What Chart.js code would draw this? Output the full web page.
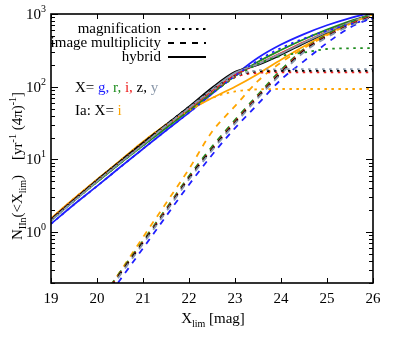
<!DOCTYPE html>
<html>
<head>
<meta charset="utf-8">
<script src="https://cdn.jsdelivr.net/npm/chart.js@4"></script>
<style>
  html, body { margin: 0; padding: 0; background: #fff; }
  #wrap { width: 399px; height: 343px; }
</style>
</head>
<body>
<div id="wrap"><canvas id="lensChart" width="399" height="343"></canvas></div>
<script>
// limiting magnitude (x axis)
const xMag = [19, 19.5, 20, 20.5, 21, 21.5, 22, 22.5, 23, 23.5, 24, 24.5, 25, 25.5, 26];
const xTicks = [19, 20, 21, 22, 23, 24, 25, 26];
const yDecades = [0, 1, 2, 3];

// hybrid (solid)
const hybG  = [1.3, 2.4, 4.3, 7.8, 14, 25, 44, 80, 145, 250, 380, 530, 700, 880, 1060];
const hybR  = [1.45, 2.7, 4.9, 8.8, 15.5, 27, 47, 82, 140, 220, 320, 450, 610, 800, 1000];
const hybI  = [1.5, 2.8, 5.1, 9.2, 16.5, 29, 50, 88, 145, 205, 290, 410, 570, 770, 1000];
const hybZ  = [1.5, 2.8, 5.2, 9.4, 17, 30, 53, 97, 160, 200, 275, 395, 560, 770, 1000];
const hybY  = [1.45, 2.7, 5.0, 9.0, 16, 29, 51, 92, 155, 205, 285, 405, 565, 770, 1000];
const hybIa = [1.55, 2.9, 5.3, 9.6, 17.5, 30, 47, 70, 100, 150, 235, 360, 530, 750, 1000];

// image multiplicity (dashed)
const mulG  = [null, null, 0.08, 0.22, 0.6, 1.65, 4.5, 11.5, 27, 58, 125, 225, 400, 650, 900];
const mulR  = [null, null, 0.1, 0.28, 0.76, 2.1, 5.9, 15, 35, 78, 170, 330, 520, 760, 1000];
const mulI  = [null, null, 0.098, 0.27, 0.73, 2.0, 5.6, 14, 33, 74, 160, 320, 500, 720, 950];
const mulZ  = [null, null, 0.096, 0.265, 0.72, 1.95, 5.5, 13.8, 32, 72, 155, 310, 490, 700, 930];
const mulY  = [null, null, 0.092, 0.255, 0.69, 1.9, 5.3, 13.3, 31, 70, 150, 300, 480, 690, 920];
const mulIa = [null, null, 0.095, 0.285, 0.85, 2.5, 7.4, 24, 54, 120, 215, 340, 510, 730, 1000];

// magnification (dotted)
const magG  = [1.3, 2.4, 4.3, 7.8, 14, 25, 44, 80, 140, 230, 340, 460, 590, 720, 870];
const magR  = [1.45, 2.7, 4.9, 8.8, 15.5, 27, 47, 82, 135, 205, 265, 295, 330, 338, 340];
const magI  = [1.5, 2.8, 5.1, 9.2, 16.5, 29, 50, 86, 135, 155, 158, 158, 158, 158, 158];
const magZ  = [1.5, 2.8, 5.2, 9.4, 17, 30, 53, 90, 140, 162, 165, 165, 165, 165, 165];
const magY  = [1.45, 2.7, 5.0, 9.0, 16, 29, 51, 88, 140, 168, 174, 175, 175, 175, 175];
const magIa = [1.55, 2.9, 5.3, 9.6, 17.5, 30, 47, 70, 86, 92, 93, 93, 93, 93, 93];

const colG = '#1f1fff', colR = '#1d8c1d', colI = '#ee1b1b', colZ = '#000000', colY = '#8a98aa', colIa = '#ffa500';

const SERIF = '"Liberation Serif", "DejaVu Serif", serif';
const DOT = [2.5, 4.5];
const DASH = [6, 6];

function pts(vals) {
  return xMag.map((x, i) => ({ x: x, y: vals[i] }));
}
function ds(vals, color, dash) {
  return {
    data: pts(vals),
    borderColor: color,
    borderWidth: 1.8,
    borderDash: dash,
    pointRadius: 0,
    fill: false,
    spanGaps: false,
    cubicInterpolationMode: 'monotone',
    clip: 0
  };
}

const datasets = [
  ds(magY, colY, DOT), ds(magZ, colZ, DOT), ds(magI, colI, DOT), ds(magR, colR, DOT), ds(magG, colG, DOT), ds(magIa, colIa, DOT),
  ds(mulY, colY, DASH), ds(mulZ, colZ, DASH), ds(mulI, colI, DASH), ds(mulR, colR, DASH), ds(mulG, colG, DASH), ds(mulIa, colIa, DASH),
  ds(hybY, colY, []), ds(hybZ, colZ, []), ds(hybI, colI, []), ds(hybR, colR, []), ds(hybIa, colIa, []), ds(hybG, colG, [])
];

// draw a run of text pieces with sub/superscripts
function rich(ctx, parts, x, y, align) {
  let total = 0;
  parts.forEach(p => { ctx.font = p.size + 'px ' + SERIF; total += ctx.measureText(p.t).width; });
  let cx = align === 'center' ? x - total / 2 : (align === 'right' ? x - total : x);
  parts.forEach(p => {
    ctx.font = p.size + 'px ' + SERIF;
    ctx.fillStyle = p.color || '#000';
    ctx.fillText(p.t, cx, y + (p.dy || 0));
    cx += ctx.measureText(p.t).width;
  });
}

const framePlugin = {
  id: 'frame',
  afterDraw(chart) {
    const ctx = chart.ctx;
    const a = chart.chartArea;
    const xs = chart.scales.x, ys = chart.scales.y;
    ctx.save();
    ctx.textBaseline = 'alphabetic';
    ctx.textAlign = 'left';
    ctx.strokeStyle = '#000';

    // ticks
    ctx.lineWidth = 1;
    ctx.beginPath();
    xTicks.forEach(v => {
      const px = Math.round(xs.getPixelForValue(v)) + 0.5;
      ctx.moveTo(px, a.bottom); ctx.lineTo(px, a.bottom - 5);
      ctx.moveTo(px, a.top); ctx.lineTo(px, a.top + 5);
    });
    for (let d = -1; d <= 3; d++) {
      for (let m = 1; m <= 9; m++) {
        const v = m * Math.pow(10, d);
        if (v < ys.min || v > ys.max) continue;
        const py = Math.round(ys.getPixelForValue(v)) + 0.5;
        const len = m === 1 ? 7 : 4;
        ctx.moveTo(a.left, py); ctx.lineTo(a.left + len, py);
        ctx.moveTo(a.right, py); ctx.lineTo(a.right - len, py);
      }
    }
    ctx.stroke();

    // frame
    ctx.lineWidth = 1.6;
    ctx.strokeRect(a.left, a.top, a.right - a.left, a.bottom - a.top);

    // x tick labels
    ctx.fillStyle = '#000';
    ctx.font = '15px ' + SERIF;
    ctx.textAlign = 'center';
    xTicks.forEach(v => {
      ctx.fillText(String(v), xs.getPixelForValue(v), a.bottom + 20);
    });
    ctx.textAlign = 'left';

    // y tick labels 10^n
    yDecades.forEach(d => {
      const py = ys.getPixelForValue(Math.pow(10, d));
      ctx.font = '10px ' + SERIF;
      const ew = ctx.measureText(String(d)).width;
      const ex = a.left - 5 - ew;
      ctx.fillText(String(d), ex, py - 2);
      ctx.font = '15px ' + SERIF;
      ctx.textAlign = 'right';
      ctx.fillText('10', ex, py + 5);
      ctx.textAlign = 'left';
    });

    // x axis title
    rich(ctx, [
      { t: 'X', size: 15 },
      { t: 'lim', size: 10, dy: 4 },
      { t: ' [mag]', size: 15 }
    ], 213, 323, 'center');

    // y axis title
    ctx.save();
    ctx.translate(22, 166);
    ctx.rotate(-Math.PI / 2);
    rich(ctx, [
      { t: 'N', size: 15 },
      { t: 'IIn', size: 10, dy: 4 },
      { t: '(<X', size: 15 },
      { t: 'lim', size: 10, dy: 4 },
      { t: ')    [yr', size: 15 },
      { t: '-1', size: 10, dy: -6 },
      { t: ' (4π)', size: 15 },
      { t: '-1', size: 10, dy: -6 },
      { t: ']', size: 15 }
    ], 0, 0, 'center');
    ctx.restore();

    // legend
    const legend = [['magnification', DOT, 29], ['image multiplicity', DASH, 43], ['hybrid', [], 57]];
    ctx.font = '15px ' + SERIF;
    ctx.textAlign = 'right';
    legend.forEach(([label, dash, ly]) => {
      ctx.fillStyle = '#000';
      ctx.fillText(label, 161, ly + 4);
      ctx.setLineDash(dash);
      ctx.lineWidth = 1.8;
      ctx.beginPath();
      ctx.moveTo(168, ly); ctx.lineTo(206, ly);
      ctx.stroke();
    });
    ctx.setLineDash([]);
    ctx.textAlign = 'left';

    // band labels
    rich(ctx, [
      { t: 'X= ', size: 15 },
      { t: 'g, ', size: 15, color: colG },
      { t: 'r, ', size: 15, color: colR },
      { t: 'i, ', size: 15, color: colI },
      { t: 'z, ', size: 15, color: colZ },
      { t: 'y', size: 15, color: colY }
    ], 75, 92, 'left');
    rich(ctx, [
      { t: 'Ia: X= ', size: 15 },
      { t: 'i', size: 15, color: colIa }
    ], 75, 115, 'left');

    ctx.restore();
  }
};

const ctx1 = document.getElementById('lensChart').getContext('2d');
const lensChart = new Chart(ctx1, {
  type: 'line',
  data: { datasets: datasets },
  options: {
    responsive: false,
    animation: false,
    layout: { padding: { left: 51, right: 26, top: 14, bottom: 60 } },
    plugins: { legend: { display: false }, tooltip: { enabled: false } },
    scales: {
      x: { type: 'linear', min: 19, max: 26, display: false },
      y: { type: 'logarithmic', min: 0.2, max: 1000, display: false }
    }
  },
  plugins: [framePlugin]
});
</script>
</body>
</html>
